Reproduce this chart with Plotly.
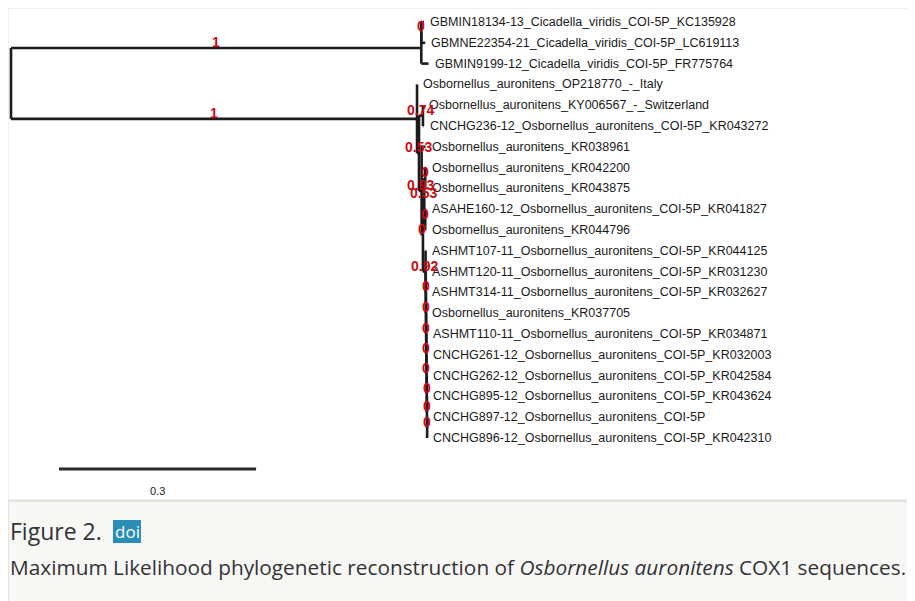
import plotly.graph_objects as go

# ---------------- data ----------------
tip_labels = [
    "GBMIN18134-13_Cicadella_viridis_COI-5P_KC135928",
    "GBMNE22354-21_Cicadella_viridis_COI-5P_LC619113",
    "GBMIN9199-12_Cicadella_viridis_COI-5P_FR775764",
    "Osbornellus_auronitens_OP218770_-_Italy",
    "Osbornellus_auronitens_KY006567_-_Switzerland",
    "CNCHG236-12_Osbornellus_auronitens_COI-5P_KR043272",
    "Osbornellus_auronitens_KR038961",
    "Osbornellus_auronitens_KR042200",
    "Osbornellus_auronitens_KR043875",
    "ASAHE160-12_Osbornellus_auronitens_COI-5P_KR041827",
    "Osbornellus_auronitens_KR044796",
    "ASHMT107-11_Osbornellus_auronitens_COI-5P_KR044125",
    "ASHMT120-11_Osbornellus_auronitens_COI-5P_KR031230",
    "ASHMT314-11_Osbornellus_auronitens_COI-5P_KR032627",
    "Osbornellus_auronitens_KR037705",
    "ASHMT110-11_Osbornellus_auronitens_COI-5P_KR034871",
    "CNCHG261-12_Osbornellus_auronitens_COI-5P_KR032003",
    "CNCHG262-12_Osbornellus_auronitens_COI-5P_KR042584",
    "CNCHG895-12_Osbornellus_auronitens_COI-5P_KR043624",
    "CNCHG897-12_Osbornellus_auronitens_COI-5P",
    "CNCHG896-12_Osbornellus_auronitens_COI-5P_KR042310",
]

# Newick tree (T<i> = tip_labels[i]); internal labels = support values
newick_bottom_chain = (
    "(T11:0.001,(T12:0.0004,(T13:0.0004,(T14:0.0004,(T15:0.0004,"
    "(T16:0.0003,(T17:0.0003,(T18:0.0003,(T19:0.0002,T20:0.0002)0:0.0003"
    ")0:0.0003)0:0.0003)0:0.0003)0:0.0003)0:0.0003)0:0.0003)0:0.0003"
    ")0.92:0.004"
)
newick = (
    "(((T0:0.004,T1:0.006)0:0,T2:0.011)1:0.6245,"
    "(T3:0,((T4:0,T5:0.001)0.74:0.006,"
    "(T6:0.006,"
    "(((T7:0.0008,T8:0.0008)0:0.0015,(T9:0.0008,T10:0.0008)0:0.0015)0.53:0.002,"
    + newick_bottom_chain +
    ")0:0.002)0.93:0.004)0.53:0.003)1:0.618);"
)

scale_bar_value = 0.3
scale_bar_label = "0.3"
caption_title = "Figure 2."
caption_badge = "doi"
caption_text = ("Maximum Likelihood phylogenetic reconstruction of "
                "<i>Osbornellus auronitens</i> COX1 sequences.")

# ---------------- parse newick ----------------
def parse(s):
    pos = [0]

    def read_token():
        start = pos[0]
        while s[pos[0]] not in ",():;":
            pos[0] += 1
        return s[start:pos[0]]

    def node():
        n = {"children": [], "label": "", "length": 0.0}
        if s[pos[0]] == "(":
            pos[0] += 1
            while True:
                n["children"].append(node())
                if s[pos[0]] == ",":
                    pos[0] += 1
                    continue
                if s[pos[0]] == ")":
                    pos[0] += 1
                    break
        n["label"] = read_token()
        if s[pos[0]] == ":":
            pos[0] += 1
            n["length"] = float(read_token())
        return n

    return node()

tree = parse(newick)

tip_counter = [0]

def layout(n, x0):
    n["x"] = x0 + n["length"]
    n["px"] = x0
    if not n["children"]:
        n["y"] = float(tip_counter[0])
        tip_counter[0] += 1
    else:
        for c in n["children"]:
            layout(c, n["x"])
        n["y"] = sum(c["y"] for c in n["children"]) / len(n["children"])

tree["length"] = 0.0
layout(tree, 0.0)

seg_x, seg_y = [], []
tips, supports = [], []

def collect(n, is_root=False):
    if not is_root:
        seg_x.extend([n["px"], n["x"], None])
        seg_y.extend([n["y"], n["y"], None])
    if n["children"]:
        ys = [c["y"] for c in n["children"]]
        seg_x.extend([n["x"], n["x"], None])
        seg_y.extend([min(ys), max(ys), None])
        if not is_root and n["label"]:
            supports.append(((n["px"] + n["x"]) / 2, n["y"], n["label"]))
        for c in n["children"]:
            collect(c)
    else:
        tips.append((n["x"], n["y"], tip_labels[int(n["label"][1:])]))

collect(tree, True)

# ---------------- figure ----------------
MARGIN = 8                      # page body margin around the plot div
W, H = 915 - MARGIN, 601 - MARGIN
PX_PER_UNIT = 657.0
X0_PX = 11.0 - MARGIN
Y0_PX = 22.0 - MARGIN
ROW_PX = 20.8

x_range = [-X0_PX / PX_PER_UNIT, (W - X0_PX) / PX_PER_UNIT]
y_range = [(H - Y0_PX) / ROW_PX, -Y0_PX / ROW_PX]

def pxx(px):
    return (px - MARGIN) / W

def pxy(py):
    return 1 - (py - MARGIN) / H

def dx(px):
    return (px - MARGIN - X0_PX) / PX_PER_UNIT

def dy(py):
    return (py - MARGIN - Y0_PX) / ROW_PX

fig = go.Figure()

fig.add_trace(go.Scatter(
    x=seg_x, y=seg_y, mode="lines",
    line=dict(color="#1c1c1c", width=2.6),
    hoverinfo="skip", showlegend=False,
))

annotations = []
label_font = dict(family="Liberation Sans, Arial, sans-serif", size=12.5, color="#1a1a1a")
for x, y, lab in tips:
    annotations.append(dict(
        x=x, y=y, xref="x", yref="y", text=lab, showarrow=False,
        xanchor="left", yanchor="middle", xshift=4, font=label_font,
    ))
for x, y, lab in supports:
    annotations.append(dict(
        x=x, y=y, xref="x", yref="y", text="<b>%s</b>" % lab, showarrow=False,
        xanchor="center", yanchor="middle", yshift=6,
        font=dict(family="Liberation Sans, Arial, sans-serif", size=14, color="#cc0a14"),
    ))

# scale bar
sb_x0 = dx(59)
sb_y = dy(469)
fig.add_trace(go.Scatter(
    x=[sb_x0, sb_x0 + scale_bar_value], y=[sb_y, sb_y], mode="lines",
    line=dict(color="#2a2a2a", width=2.8), hoverinfo="skip", showlegend=False,
))
annotations.append(dict(
    x=sb_x0 + scale_bar_value / 2, y=dy(491), xref="x", yref="y",
    text=scale_bar_label, showarrow=False, xanchor="center", yanchor="middle",
    font=dict(family="Liberation Sans, Arial, sans-serif", size=11, color="#222"),
))

# caption
cap_font = "Open Sans, Noto Sans, sans-serif"
annotations.append(dict(
    x=pxx(8), y=pxy(531), xref="paper", yref="paper", text=caption_title,
    showarrow=False, xanchor="left", yanchor="middle",
    font=dict(family=cap_font, size=23, color="#333"),
))
annotations.append(dict(
    x=pxx(127), y=pxy(531), xref="paper", yref="paper", text=caption_badge,
    showarrow=False, xanchor="center", yanchor="middle",
    font=dict(family=cap_font, size=17, color="#ffffff"),
))
annotations.append(dict(
    x=pxx(8), y=pxy(567), xref="paper", yref="paper", text=caption_text,
    showarrow=False, xanchor="left", yanchor="middle",
    font=dict(family=cap_font, size=20.8, color="#333"),
))

shapes = [
    dict(type="rect", xref="paper", yref="paper", x0=pxx(8), x1=pxx(916),
         y0=pxy(500), y1=pxy(8), line=dict(color="#e2e2e2", width=1),
         fillcolor="rgba(0,0,0,0)", layer="below"),
    dict(type="rect", xref="paper", yref="paper", x0=pxx(8), x1=pxx(916),
         y0=pxy(602), y1=pxy(501), line=dict(color="#dddddd", width=1.5),
         fillcolor="#f7f7f6", layer="below"),
    dict(type="rect", xref="paper", yref="paper", x0=pxx(113), x1=pxx(141),
         y0=pxy(543), y1=pxy(520), line=dict(width=0),
         fillcolor="#2a8db8", layer="below"),
]

fig.update_layout(
    width=W, height=H,
    margin=dict(l=0, r=0, t=0, b=0),
    paper_bgcolor="#ffffff", plot_bgcolor="rgba(0,0,0,0)",
    xaxis=dict(range=x_range, visible=False, fixedrange=True),
    yaxis=dict(range=y_range, visible=False, fixedrange=True),
    annotations=annotations, shapes=shapes, showlegend=False,
)

fig.write_html("out.html")
